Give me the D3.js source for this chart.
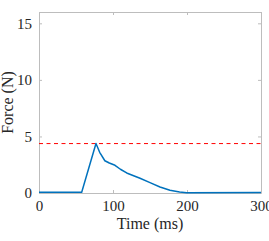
<!DOCTYPE html>
<html>
<head>
<meta charset="utf-8">
<script src="https://cdn.jsdelivr.net/npm/d3@7"></script>
<style>
  body { margin: 0; background: #fff; }
  text { font-family: "Liberation Serif", "Times New Roman", "DejaVu Serif", serif; fill: #262626; }
</style>
</head>
<body>
<div id="plot"></div>
<script>
// data
const timeMs = [0, 57.7, 77, 82, 89, 95, 102.7, 110, 118.5, 127, 136.5, 150, 163.5, 177, 190, 199.6, 300];
const forceN = [0.06, 0.06, 4.37, 3.6, 2.85, 2.65, 2.45, 2.1, 1.77, 1.55, 1.3, 0.92, 0.53, 0.24, 0.08, 0.03, 0.05];
const threshold = 4.37;
const xTicks = [0, 100, 200, 300];
const yTicks = [0, 5, 10, 15];

const w = 269;
const h = 241;
const margin = {top: 12, right: 8, bottom: 48, left: 39};
const innerWidth = w - margin.left - margin.right;
const innerHeight = h - margin.top - margin.bottom;
const serif = "'Liberation Serif', 'Times New Roman', 'DejaVu Serif', serif";

const svg = d3.select("div#plot")
  .append("svg")
    .attr("width", w)
    .attr("height", h);

const g = svg.append("g")
  .attr("transform", `translate(${margin.left}, ${margin.top})`);

const xScale = d3.scaleLinear()
  .domain([0, 300])
  .range([0, innerWidth]);

const yScale = d3.scaleLinear()
  .domain([0, 16])
  .range([innerHeight, 0]);

const axisColor = "#bdbdbd";

// box with inward ticks on all sides
const xAxis = d3.axisBottom(xScale).tickValues(xTicks).tickSizeInner(-3).tickSizeOuter(0).tickPadding(7);
const yAxis = d3.axisLeft(yScale).tickValues(yTicks).tickSizeInner(-3).tickSizeOuter(0).tickPadding(7);

g.append("g")
  .attr("transform", `translate(0, ${innerHeight})`)
  .call(xAxis);
g.append("g").call(yAxis);

g.append("g")
  .call(d3.axisTop(xScale).tickValues(xTicks).tickSizeInner(-3).tickSizeOuter(0).tickFormat(""));
g.append("g")
  .attr("transform", `translate(${innerWidth}, 0)`)
  .call(d3.axisRight(yScale).tickValues(yTicks).tickSizeInner(-3).tickSizeOuter(0).tickFormat(""));

g.selectAll("g").attr("font-family", serif);
g.selectAll(".domain, .tick line").attr("stroke", axisColor);
g.selectAll(".tick text")
  .style("font-family", serif)
  .style("font-size", "15px")
  .attr("fill", "#262626");

// threshold
g.append("line")
  .attr("x1", xScale(0))
  .attr("x2", xScale(300))
  .attr("y1", yScale(threshold))
  .attr("y2", yScale(threshold))
  .attr("stroke", "#ff0000")
  .attr("stroke-width", 1)
  .attr("stroke-dasharray", "4,3.5");

// force curve
const line = d3.line()
  .x((d, i) => xScale(timeMs[i]))
  .y(d => yScale(d));

g.append("path")
  .datum(forceN)
  .attr("fill", "none")
  .attr("stroke", "#0072BD")
  .attr("stroke-width", 1.5)
  .attr("stroke-linejoin", "round")
  .attr("d", line);

// axis labels
g.append("text")
  .attr("x", innerWidth / 2)
  .attr("y", innerHeight + 36)
  .attr("text-anchor", "middle")
  .style("font-family", serif)
  .style("font-size", "16px")
  .text("Time (ms)");

g.append("text")
  .attr("transform", `translate(${13 - margin.left}, ${innerHeight / 2}) rotate(-90)`)
  .attr("text-anchor", "middle")
  .style("font-family", serif)
  .style("font-size", "16px")
  .text("Force (N)");
</script>
</body>
</html>
